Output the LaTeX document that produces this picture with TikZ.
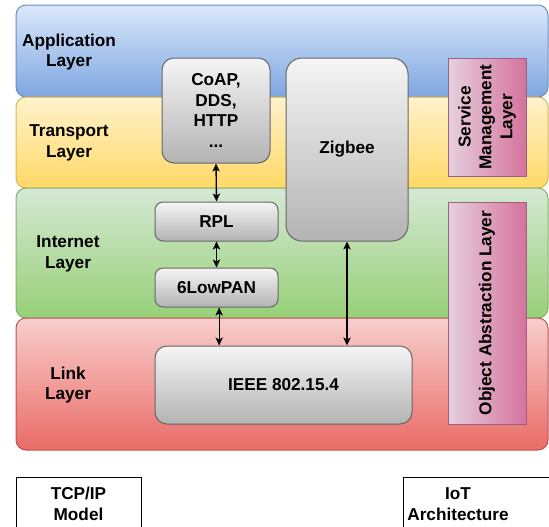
\documentclass[tikz,border=0pt]{standalone}
\usepackage{fontspec}
\usetikzlibrary{arrows.meta}
\setmainfont{Liberation Sans}
\definecolor{appTop}{HTML}{DAE8FC}\definecolor{appBot}{HTML}{7EA6E0}\definecolor{appLine}{HTML}{6C8EBF}
\definecolor{traTop}{HTML}{FFF2CC}\definecolor{traBot}{HTML}{FFD966}\definecolor{traLine}{HTML}{D6B656}
\definecolor{intTop}{HTML}{D5E8D4}\definecolor{intBot}{HTML}{97D077}\definecolor{intLine}{HTML}{82B366}
\definecolor{linTop}{HTML}{F8CECC}\definecolor{linBot}{HTML}{EA6B66}\definecolor{linLine}{HTML}{B85450}
\definecolor{boxTop}{HTML}{F5F5F5}\definecolor{boxBot}{HTML}{B3B3B3}\definecolor{boxLine}{HTML}{666666}
\definecolor{pinkL}{HTML}{E6D0DE}\definecolor{pinkR}{HTML}{D5739D}\definecolor{pinkLine}{HTML}{996185}
\begin{document}
\begin{tikzpicture}[x=0.75pt,y=-0.75pt,
  font=\fontsize{12.9}{15.6}\selectfont\bfseries,
  layer/.style={draw=#1Line,top color=#1Top,bottom color=#1Bot,rounded corners=7.5pt,line width=0.75pt},
  protobox/.style={draw=boxLine,top color=boxTop,bottom color=boxBot,rounded corners=#1,line width=0.75pt,align=center},
  protobox/.default=6pt,
  iotbox/.style={draw=pinkLine,left color=pinkL,right color=pinkR,line width=0.75pt,align=center},
  legend/.style={draw,line width=0.75pt,align=center}]
\clip (0,0) rectangle (549,526);
% TCP/IP layers
\path[layer=app] (16,5) rectangle (548,97);
\path[layer=tra] (16,97) rectangle (548,188);
\path[layer=int] (16,188) rectangle (548,318);
\path[layer=lin] (16,318) rectangle (548,450);
\node[align=center] (app) at (69,52) {Application\\Layer};
\node[align=center] (tra) at (69,143) {Transport\\Layer};
\node[align=center] (int) at (68,254) {Internet\\Layer};
\node[align=center] (lin) at (68,385) {Link\\Layer};
% protocol stack
\node[protobox=9pt, minimum width=81pt, minimum height=78.75pt] (coap) at (216,110.5) {CoAP,\\DDS,\\HTTP\\...};
\node[protobox=12pt, minimum width=91.5pt, minimum height=137.25pt] (zigbee) at (347,149.5) {Zigbee};
\node[protobox, minimum width=92.25pt, minimum height=29.25pt] (rpl) at (216.5,221.5) {RPL};
\node[protobox, minimum width=92.25pt, minimum height=29.25pt] (lowpan) at (216.5,287.5) {6LowPAN};
\node[protobox=9pt, minimum width=192.75pt, minimum height=58.5pt] (ieee) at (283.5,385) {IEEE 802.15.4};
% IoT architecture
\node[iotbox, minimum width=58.5pt, minimum height=88.5pt] (sml) at (487,117) {};
\node[rotate=90, align=center] (smltext) at (sml.center) {Service\\Management\\Layer};
\node[iotbox, minimum width=58.5pt, minimum height=166.5pt] (oal) at (487,313) {};
\node[rotate=90] (oaltext) at (oal.center) {Object Abstraction Layer};
% links between protocols
\draw[<->,>={Stealth[length=6pt,width=5.5pt,inset=1.5pt]},line width=1pt] (coap.south) -- (rpl.north);
\draw[<->,>={Stealth[length=6pt,width=5.5pt,inset=1.5pt]},line width=1pt] (rpl.south) -- (lowpan.north);
\draw[<->,>={Stealth[length=6pt,width=5.5pt,inset=1.5pt]},line width=1pt] ([xshift=2pt]lowpan.south) -- ([xshift=2pt]lowpan.south |- ieee.north);
\draw[<->,>={Stealth[length=6pt,width=5.5pt,inset=1.5pt]},line width=1pt] (zigbee.south) -- (zigbee.south |- ieee.north);
% legend boxes
\node[legend, minimum width=93.75pt, minimum height=40.5pt] (tcpip) at (78.5,504) {TCP/IP\\Model};
\draw[line width=0.75pt] (403,477) rectangle (570,531);
\node[align=center] (iot) at (458,504) {IoT\\Architecture};
\end{tikzpicture}
\end{document}
